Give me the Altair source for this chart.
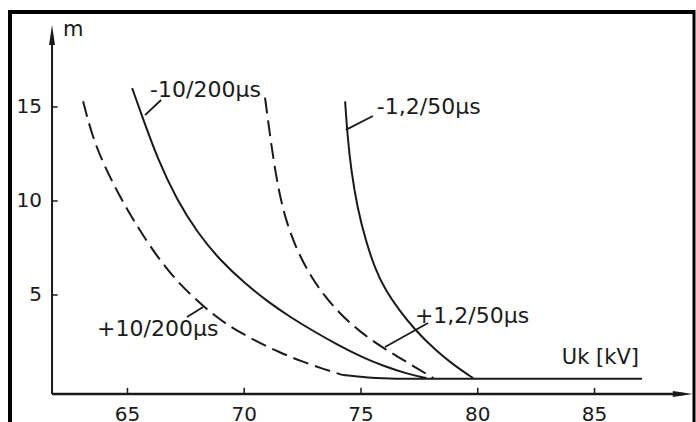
import altair as alt
import pandas as pd

INK = "#1a1a1a"
FONT = "DejaVu Sans"

# ---- data (Uk in kV, m) ----
kv_pos_10_200 = [63.10, 63.50, 64.00, 64.60, 65.20, 65.90, 66.95, 68.40, 69.40, 70.50, 71.50, 72.50, 73.40, 74.23]
m_pos_10_200 = [15.30, 13.40, 11.90, 10.40, 9.10, 7.70, 5.90, 4.20, 3.30, 2.55, 1.95, 1.45, 1.06, 0.74]

kv_neg_10_200 = [65.20, 65.60, 66.30, 67.10, 68.00, 69.00, 70.00, 71.00, 72.00, 73.00, 74.00, 75.00, 76.00, 77.00, 77.80]
m_neg_10_200 = [16.00, 14.60, 12.20, 10.10, 8.30, 6.80, 5.65, 4.65, 3.80, 3.05, 2.35, 1.72, 1.20, 0.80, 0.58]

kv_pos_12_50 = [70.89, 71.05, 71.25, 71.50, 71.80, 72.25, 72.80, 73.40, 74.10, 74.90, 75.80, 76.60, 77.40, 78.10]
m_pos_12_50 = [15.50, 14.00, 12.20, 10.40, 8.90, 7.40, 6.10, 5.00, 4.00, 3.10, 2.30, 1.70, 1.10, 0.58]

kv_neg_12_50 = [74.32, 74.42, 74.58, 74.85, 75.20, 75.60, 76.05, 76.60, 77.30, 78.20, 79.00, 79.80]
m_neg_12_50 = [15.30, 13.50, 11.60, 9.60, 7.90, 6.40, 5.25, 4.25, 3.15, 2.05, 1.25, 0.58]

kv_base = [74.23, 75.30, 76.50, 87.03]
m_base = [0.74, 0.61, 0.55, 0.55]

x_ticks = [65, 70, 75, 80, 85]
y_ticks = [5, 10, 15]

label_text = ["-10/200µs", "-1,2/50µs", "+10/200µs", "+1,2/50µs"]
label_kv = [65.97, 75.68, 63.70, 77.31]
label_m = [15.90, 15.00, 3.19, 3.88]

leader_kv1 = [65.75, 74.35, 67.55, 76.03]
leader_m1 = [14.57, 13.78, 3.83, 2.23]
leader_kv2 = [66.44, 75.51, 68.24, 77.87]
leader_m2 = [15.37, 14.52, 4.36, 3.51]

axis_kv0 = 61.77      # position of the m axis
axis_m0 = -0.27       # position of the Uk axis
axis_kv_end = 88.80
axis_m_end = 18.80
arrow_x_kv = 88.78
arrow_y_m = 18.83

# ---- scales ----
W, H = 684, 410
xs = alt.Scale(domain=[59.97, 89.26], nice=False, zero=False)
ys = alt.Scale(domain=[-1.755, 20.05], nice=False, zero=False)


def X(field="kv"):
    return alt.X(f"{field}:Q", scale=xs, axis=None)


def Y(field="m"):
    return alt.Y(f"{field}:Q", scale=ys, axis=None)


def curve(kv, m, dashed, interp="basis"):
    df = pd.DataFrame({"kv": kv, "m": m, "o": list(range(len(kv)))})
    kw = dict(color=INK, strokeWidth=2, interpolate=interp)
    if dashed:
        kw["strokeDash"] = [16, 7]
    return alt.Chart(df).mark_line(**kw).encode(x=X(), y=Y(), order="o:Q")


layers = [
    curve(kv_pos_10_200, m_pos_10_200, True),
    curve(kv_neg_10_200, m_neg_10_200, False),
    curve(kv_pos_12_50, m_pos_12_50, True),
    curve(kv_neg_12_50, m_neg_12_50, False),
    curve(kv_base, m_base, False, "monotone"),
]

# leaders
lead_df = pd.DataFrame({"kv": leader_kv1, "m": leader_m1, "kv2": leader_kv2, "m2": leader_m2})
layers.append(
    alt.Chart(lead_df).mark_rule(color=INK, strokeWidth=1.8).encode(
        x=X(), y=Y(), x2="kv2:Q", y2="m2:Q"
    )
)

# curve labels
lab_df = pd.DataFrame({"kv": label_kv, "m": label_m, "t": label_text})
layers.append(
    alt.Chart(lab_df).mark_text(align="left", baseline="middle", font=FONT, fontSize=22, color=INK).encode(
        x=X(), y=Y(), text="t:N"
    )
)

# axes lines
xa = pd.DataFrame({"kv": [axis_kv0], "kv2": [axis_kv_end], "m": [axis_m0]})
layers.append(alt.Chart(xa).mark_rule(color=INK, strokeWidth=2.5).encode(x=X(), x2="kv2:Q", y=Y()))
ya = pd.DataFrame({"kv": [axis_kv0], "m": [axis_m0], "m2": [axis_m_end]})
layers.append(alt.Chart(ya).mark_rule(color=INK, strokeWidth=2).encode(x=X(), y=Y(), y2="m2:Q"))

# arrows
layers.append(
    alt.Chart(pd.DataFrame({"kv": [axis_kv0], "m": [arrow_y_m]})).mark_point(
        shape="M0,-1L0.3,1L-0.3,1Z", filled=True, size=400, color=INK, opacity=1
    ).encode(x=X(), y=Y())
)
layers.append(
    alt.Chart(pd.DataFrame({"kv": [arrow_x_kv], "m": [axis_m0]})).mark_point(
        shape="M1,0L-1,-0.3L-1,0.3Z", filled=True, size=400, color=INK, opacity=1
    ).encode(x=X(), y=Y())
)

# ticks
xt = pd.DataFrame({"kv": x_ticks, "m": [axis_m0] * len(x_ticks), "m2": [axis_m0 + 0.33] * len(x_ticks)})
layers.append(alt.Chart(xt).mark_rule(color=INK, strokeWidth=1.5).encode(x=X(), y=Y(), y2="m2:Q"))
yt = pd.DataFrame({"m": y_ticks, "kv": [axis_kv0] * len(y_ticks), "kv2": [axis_kv0 + 0.24] * len(y_ticks)})
layers.append(alt.Chart(yt).mark_rule(color=INK, strokeWidth=1.5).encode(x=X(), x2="kv2:Q", y=Y()))

# tick labels
xl = pd.DataFrame({"kv": x_ticks, "m": [-0.85] * len(x_ticks), "t": [str(v) for v in x_ticks]})
layers.append(
    alt.Chart(xl).mark_text(align="center", baseline="top", font=FONT, fontSize=20, color=INK).encode(
        x=X(), y=Y(), text="t:N"
    )
)
yl = pd.DataFrame({"m": y_ticks, "kv": [61.34] * len(y_ticks), "t": [str(v) for v in y_ticks]})
layers.append(
    alt.Chart(yl).mark_text(align="right", baseline="middle", font=FONT, fontSize=20, color=INK).encode(
        x=X(), y=Y(), text="t:N"
    )
)

# axis titles
at = pd.DataFrame({"kv": [62.24, 83.60], "m": [19.10, 1.65], "t": ["m", "Uk [kV]"]})
layers.append(
    alt.Chart(at).mark_text(align="left", baseline="middle", font=FONT, fontSize=21, color=INK).encode(
        x=X(), y=Y(), text="t:N"
    )
)

# frame (decoration around the figure)
one = pd.DataFrame({"a": [0]})
layers.append(alt.Chart(one).mark_rule(color="black", strokeWidth=4).encode(
    x=alt.value(0), y=alt.value(-2), y2=alt.value(H)))
layers.append(alt.Chart(one).mark_rule(color="black", strokeWidth=4).encode(
    x=alt.value(-2), x2=alt.value(W), y=alt.value(0)))
layers.append(alt.Chart(one).mark_rule(color="black", strokeWidth=3).encode(
    x=alt.value(W), y=alt.value(-2), y2=alt.value(H)))

chart = alt.layer(*layers).properties(
    width=W,
    height=H,
    padding={"left": 10, "top": 12, "right": 2, "bottom": 0},
    autosize=alt.AutoSizeParams(type="none"),
    background="white",
).configure_view(stroke=None)

chart.save("out.html", embed_options={"renderer": "svg", "actions": False})
